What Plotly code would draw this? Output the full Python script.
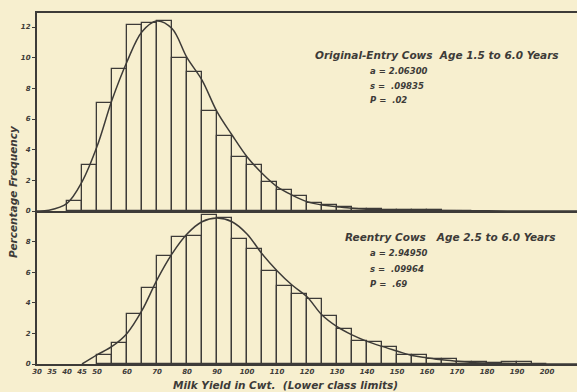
import plotly.graph_objects as go

# class lower limits (cwt) and percentage frequencies
orig_bins = [40, 45, 50, 55, 60, 65, 70, 75, 80, 85, 90, 95, 100, 105, 110, 115, 120,
             125, 130, 135, 140, 145, 150, 155, 160, 165, 170]
orig_freq = [0.65, 3.0, 7.07, 9.26, 12.13, 12.24, 12.4, 10.0, 9.09, 6.52, 4.89, 3.5, 3.0,
             1.87, 1.37, 0.98, 0.5, 0.4, 0.25, 0.15, 0.12, 0.08, 0.06, 0.05, 0.04, 0.03, 0.02]

reentry_bins = [50, 55, 60, 65, 70, 75, 80, 85, 90, 95, 100, 105, 110, 115, 120, 125, 130,
                135, 140, 145, 150, 155, 160, 165, 170, 175, 180, 185, 190, 195]
reentry_freq = [0.6, 1.37, 3.29, 5.0, 7.03, 8.3, 8.38, 9.76, 9.54, 8.17, 7.53, 6.1, 5.12,
                4.57, 4.27, 3.11, 2.29, 1.52, 1.45, 1.1, 0.62, 0.62, 0.32, 0.32, 0.15, 0.1,
                0.05, 0.1, 0.1, 0.03]

# fitted curves, points
orig_curve_x = [30, 34, 40, 45, 50, 55, 60, 65, 70, 75, 80, 85, 90, 95, 100, 105, 110, 115,
                120, 125, 130, 135, 140, 150, 160, 180, 200, 210]
orig_curve_y = [0.0, 0.05, 0.5, 1.9, 4.2, 7.24, 9.74, 11.7, 12.4, 11.9, 10.0, 8.54, 6.48,
                4.96, 3.54, 2.46, 1.59, 1.04, 0.61, 0.39, 0.28, 0.18, 0.12, 0.06, 0.03,
                0.01, 0.0, 0.0]

reentry_curve_x = [45, 50, 55, 60, 65, 70, 75, 80, 85, 90, 95, 100, 105, 110, 115, 120, 125,
                   130, 135, 140, 145, 150, 155, 160, 165, 170, 175, 180, 190, 200, 210]
reentry_curve_y = [0.0, 0.6, 1.15, 2.0, 3.5, 5.5, 7.2, 8.5, 9.3, 9.54, 9.3, 8.5, 7.2, 6.1,
                   5.16, 4.4, 3.2, 2.44, 1.9, 1.48, 1.15, 0.85, 0.55, 0.4, 0.27, 0.18, 0.1,
                   0.06, 0.02, 0.0, 0.0]

x_ticks = [30, 35, 40, 45, 50, 60, 70, 80, 90, 100, 110, 120, 130, 140, 150, 160, 170, 180, 190, 200]

INK = "#3d3b38"
PAPER = "#f7efcf"

fig = go.Figure()

fig.add_trace(go.Bar(x=orig_bins, y=orig_freq, width=5, offset=0, xaxis="x2", yaxis="y2",
                     marker=dict(color="rgba(0,0,0,0)", line=dict(color=INK, width=1.3))))
fig.add_trace(go.Scatter(x=orig_curve_x, y=orig_curve_y, xaxis="x2", yaxis="y2", mode="lines",
                         line=dict(color=INK, width=1.5, shape="spline")))
fig.add_trace(go.Bar(x=reentry_bins, y=reentry_freq, width=5, offset=0,
                     marker=dict(color="rgba(0,0,0,0)", line=dict(color=INK, width=1.3))))
fig.add_trace(go.Scatter(x=reentry_curve_x, y=reentry_curve_y, mode="lines",
                         line=dict(color=INK, width=1.5, shape="spline")))

split = 153 / 351
tickfont = dict(family="DejaVu Sans", color=INK, size=7, style="italic", weight="bold")

fig.update_layout(
    width=577, height=392,
    margin=dict(l=37, r=0, t=13, b=28),
    paper_bgcolor=PAPER, plot_bgcolor=PAPER,
    showlegend=False, bargap=0,
    xaxis=dict(range=[30, 210], domain=[0, 1], anchor="y", tickvals=x_ticks,
               showgrid=False, zeroline=False, showline=True, linecolor=INK, linewidth=2,
               ticks="", tickfont=tickfont),
    yaxis=dict(range=[0, 10], domain=[0, split], anchor="x", tickvals=[0, 2, 4, 6, 8],
               showgrid=False, zeroline=False, showline=True, linecolor=INK, linewidth=2,
               ticks="outside", ticklen=3, tickcolor=INK, tickfont=tickfont),
    xaxis2=dict(range=[30, 210], domain=[0, 1], anchor="y2", showticklabels=False,
                showgrid=False, zeroline=False, showline=True, mirror=True,
                linecolor=INK, linewidth=2),
    yaxis2=dict(range=[0, 198 / 15.33], domain=[split, 1], anchor="x2",
                tickvals=[0, 2, 4, 6, 8, 10, 12],
                showgrid=False, zeroline=False, showline=True, linecolor=INK, linewidth=2,
                ticks="outside", ticklen=3, tickcolor=INK, tickfont=tickfont),
)

title_font = dict(family="DejaVu Sans", color=INK, size=10.5, style="italic", weight="bold")
small_font = dict(family="DejaVu Sans", color=INK, size=8.5, style="italic", weight="bold")


def note(text, px, py, font, xanchor="left", angle=0):
    return dict(x=(px - 37) / 540, y=(364 - py) / 351, xref="paper", yref="paper",
                xanchor=xanchor, yanchor="middle", textangle=angle,
                text=text, showarrow=False, font=font)


annotations = [
    note("Original-Entry Cows  Age 1.5 to 6.0 Years", 313, 55, title_font),
    note("a = 2.06300", 368, 71, small_font),
    note("s =  .09835", 368, 86, small_font),
    note("P =  .02", 368, 100, small_font),
    note("Reentry Cows   Age 2.5 to 6.0 Years", 343, 237, title_font),
    note("a = 2.94950", 368, 253, small_font),
    note("s =  .09964", 368, 269, small_font),
    note("P =  .69", 368, 284, small_font),
    note("Percentage Frequency", 13, 192, title_font, xanchor="center", angle=-90),
    note("Milk Yield in Cwt.  (Lower class limits)", 285, 385, title_font, xanchor="center"),
]
fig.update_layout(annotations=annotations)

# drop the page's default body margin so the figure sits at the window's corner
fig.write_html("out.html", config={"displayModeBar": False},
               post_script="document.body.style.margin='0';")
